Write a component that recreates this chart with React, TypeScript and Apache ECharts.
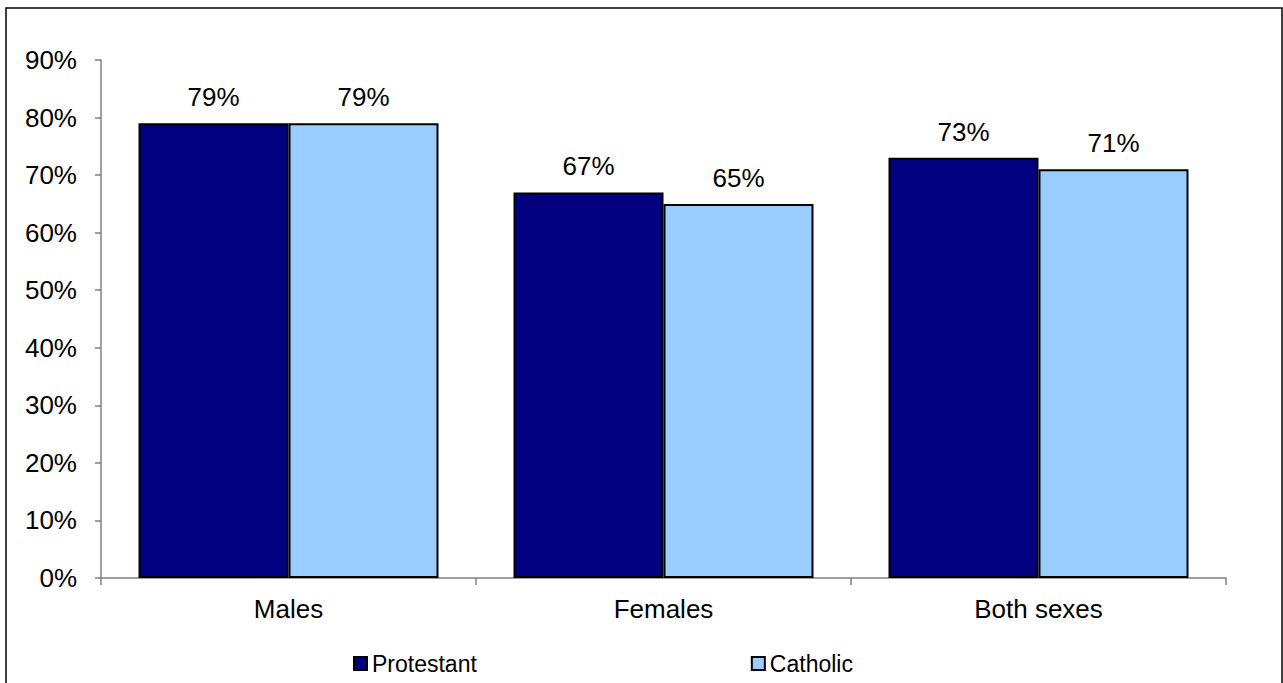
import React, { useEffect, useRef } from "react";
import * as echarts from "echarts";

const categories = ["Males", "Females", "Both sexes"];
const protestant = [79, 67, 73];
const catholic = [79, 65, 71];
const seriesNames = ["Protestant", "Catholic"];

export default function App() {
  const ref = useRef<HTMLDivElement>(null);

  useEffect(() => {
    document.body.style.margin = "0";
    const chart = echarts.init(ref.current!, null, { renderer: "svg" });
    const font = "Arial, 'Liberation Sans', sans-serif";
    const labelStyle = {
      show: true,
      position: "top" as const,
      distance: 13,
      formatter: "{c}%",
      color: "#000",
      fontSize: 26,
      fontFamily: font,
    };
    chart.setOption({
      animation: false,
      backgroundColor: "#fff",
      textStyle: { fontFamily: font },
      graphic: [
        {
          type: "rect",
          shape: { x: 6, y: 8, width: 1276, height: 690 },
          style: { fill: "none", stroke: "#000", lineWidth: 1.5 },
          silent: true,
        },
      ],
      grid: { left: 101, right: 57, top: 60, bottom: 105 },
      legend: {
        left: 353,
        top: 652,
        padding: 0,
        itemWidth: 13,
        itemHeight: 13,
        itemGap: 274,
        icon: "rect",
        textStyle: { fontSize: 23, color: "#000", fontFamily: font },
        data: seriesNames,
      },
      xAxis: {
        type: "category",
        data: categories,
        axisLine: { lineStyle: { color: "#808080", width: 1.5 } },
        axisTick: { show: true, length: 7, lineStyle: { color: "#808080", width: 1.5 } },
        axisLabel: { color: "#000", fontSize: 26, margin: 18, fontFamily: font },
      },
      yAxis: {
        type: "value",
        min: 0,
        max: 90,
        interval: 10,
        axisLine: { show: true, lineStyle: { color: "#808080", width: 1.5 } },
        axisTick: { show: true, length: 6, lineStyle: { color: "#808080", width: 1.5 } },
        splitLine: { show: false },
        axisLabel: { color: "#000", fontSize: 26, margin: 24, formatter: "{value}%", fontFamily: font },
      },
      series: [
        {
          name: seriesNames[0],
          type: "bar",
          data: protestant,
          barGap: "0%",
          barCategoryGap: "20%",
          itemStyle: { color: "#000080", borderColor: "#000", borderWidth: 2 },
          label: labelStyle,
        },
        {
          name: seriesNames[1],
          type: "bar",
          data: catholic,
          barGap: "0%",
          barCategoryGap: "20%",
          itemStyle: { color: "#99CCFF", borderColor: "#000", borderWidth: 2 },
          label: labelStyle,
        },
      ],
    });
    return () => chart.dispose();
  }, []);

  return <div ref={ref} style={{ width: 1283, height: 683 }} />;
}
